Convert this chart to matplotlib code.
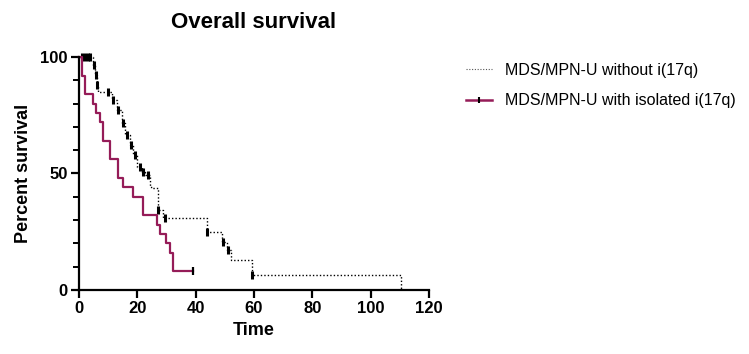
import numpy as np
import matplotlib
matplotlib.use("Agg")
import matplotlib.pyplot as plt
from matplotlib.lines import Line2D
from matplotlib.ticker import MultipleLocator

plt.rcParams['font.family'] = ['Liberation Sans', 'DejaVu Sans']

# MDS/MPN-U without i(17q): step times (months) and survival (%)
no_iso_t = [0, 4.9, 5.5, 6.1, 6.4, 11.2, 12.9, 14.6, 15.8, 17.5, 18.6, 19.8,
            21.5, 22.6, 24.3, 24.9, 27.2, 28.9, 43.8, 48.9, 50.6, 52.3, 59.5, 110.6]
no_iso_s = [100, 96.6, 92.3, 88, 85, 81.5, 77.3, 71.5, 66.5, 62.2, 57.9, 52.9,
            50.8, 49.4, 44.3, 43.6, 34.3, 30.8, 25, 20.7, 17.2, 12.9, 6.4, 0]
no_iso_cens_t = [1.0, 2.0, 3.0, 3.8, 5.2, 5.8, 6.3, 10.0, 11.8, 13.5, 15.2, 16.5,
                 18.0, 19.2, 20.8, 22.0, 23.5, 27.2, 29.5, 43.8, 49.5, 51.2, 59.5]

# MDS/MPN-U with isolated i(17q)
iso_t = [0, 0.9, 2.1, 4.9, 5.8, 7.2, 8.1, 10.6, 13.5, 15.2, 18.4, 22.0, 26.6,
         27.8, 30.0, 31.2, 32.3, 39.2]
iso_s = [100, 92, 84, 80, 76, 72, 64, 56, 48, 44, 40, 32, 28, 24, 20, 16, 8, 8]
iso_cens_t = [39.2]

purple = '#951C58'


def surv_at(times, surv, t):
    idx = np.searchsorted(times, t, side='right') - 1
    return surv[idx]


fig = plt.figure(figsize=(7.49, 3.54), dpi=100)
ax = fig.add_axes([0.1055, 0.181, 0.467, 0.658])

ax.step(no_iso_t, no_iso_s, where='post', color='black', lw=1.0,
        linestyle=(0, (1, 1.5)), clip_on=False)
ax.plot(no_iso_cens_t, [surv_at(no_iso_t, no_iso_s, t) for t in no_iso_cens_t],
        linestyle='none', marker='|', ms=5.5, mew=2.2, color='black', clip_on=False)

ax.step(iso_t, iso_s, where='post', color=purple, lw=1.6, clip_on=False)
ax.plot(iso_cens_t, [surv_at(iso_t, iso_s, t) for t in iso_cens_t],
        linestyle='none', marker='|', ms=5.5, mew=1.6, color='black', clip_on=False)

ax.set_xlim(0, 120)
ax.set_ylim(0, 100)
ax.xaxis.set_major_locator(MultipleLocator(20))
ax.yaxis.set_major_locator(MultipleLocator(50))
ax.yaxis.set_minor_locator(MultipleLocator(10))

for side in ['top', 'right']:
    ax.spines[side].set_visible(False)
for side in ['left', 'bottom']:
    ax.spines[side].set_linewidth(1.6)

ax.tick_params(axis='both', which='major', direction='out', length=6, width=1.6,
               labelsize=12, pad=2)
ax.tick_params(axis='y', which='minor', direction='out', length=4, width=1.4)
for lab in ax.get_xticklabels() + ax.get_yticklabels():
    lab.set_fontweight('bold')

ax.set_title('Overall survival', fontsize=16, fontweight='bold', pad=21)
ax.set_xlabel('Time', fontsize=13, fontweight='bold', labelpad=4)
ax.set_ylabel('Percent survival', fontsize=13, fontweight='bold', labelpad=6)

handles = [
    Line2D([0], [0], color='#555555', lw=0.8, linestyle=(0, (1, 1.5))),
    Line2D([0], [0], color=purple, lw=1.8, marker='|', ms=5, mew=1.5,
           markeredgecolor='black'),
]
labels = ['MDS/MPN-U without i(17q)', 'MDS/MPN-U with isolated i(17q)']
fig.legend(handles, labels, loc='upper left', bbox_to_anchor=(0.622, 0.822),
           frameon=False, fontsize=11.5, handlelength=1.65, handletextpad=0.8,
           labelspacing=0.95, borderpad=0, borderaxespad=0)

fig.savefig('out.png', dpi=100)
